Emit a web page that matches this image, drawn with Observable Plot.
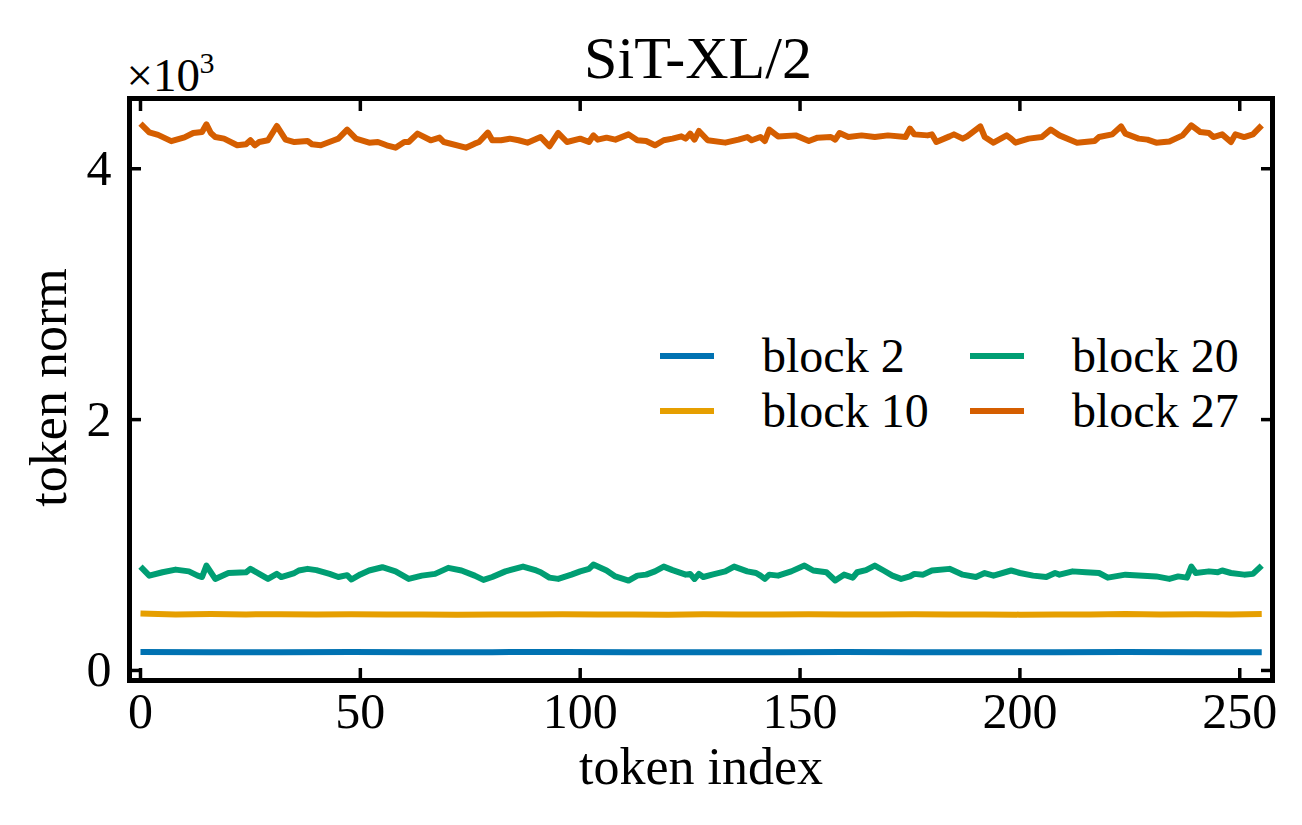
<!DOCTYPE html>
<html><head><meta charset="utf-8">
<script src="https://cdn.jsdelivr.net/npm/d3@7"></script>
<script src="https://cdn.jsdelivr.net/npm/@observablehq/plot@0.6"></script>
<style>
body{margin:0;background:#fff}
svg text{font-family:"Liberation Serif",serif}
</style>
</head><body><div id="chart"></div>
<script>
// ---- data (token norm, in units of 10^3) ----
const seriesNames = ["block 2", "block 10", "block 20", "block 27"];
const seriesColors = ["#0072b2", "#e69f00", "#009e73", "#d55e00"];
const xTicks = [0, 50, 100, 150, 200, 250];
const yTicks = [0, 2, 4];
const titleText = "SiT-XL/2";
const xLabelText = "token index";
const yLabelText = "token norm";

const block2Idx = [0,16,32,48,64,80,96,112,128,144,160,176,192,208,224,240,255];
const block2Val = [0.148,0.146,0.145,0.147,0.145,0.146,0.147,0.145,0.146,0.145,0.147,0.146,0.145,0.146,0.147,0.145,0.146];

const block10Idx = [0,8,16,24,32,40,48,56,64,72,80,88,96,104,112,120,128,136,144,152,160,168,176,184,192,200,208,216,224,232,240,248,255];
const block10Val = [0.455,0.447,0.450,0.447,0.449,0.446,0.448,0.446,0.447,0.445,0.447,0.446,0.448,0.446,0.447,0.445,0.448,0.446,0.447,0.449,0.446,0.447,0.448,0.446,0.447,0.445,0.447,0.446,0.450,0.446,0.449,0.447,0.450];

const block20Idx = [0,2,5,8,11,13,14,15,17,20,24,25,27,29,31,32,35,36,38,40,43,45,47,48,50,52,55,58,61,64,67,70,73,76,78,80,83,87,90,91,93,95,98,100,102,103,106,108,111,113,115,117,119,121,124,125,126,127,128,130,133,135,138,140,141,142,143,145,148,151,153,156,158,160,162,163,165,167,169,171,173,175,176,178,180,184,187,190,192,194,198,200,203,206,208,209,212,215,218,220,224,228,231,234,236,238,239,240,243,245,246,248,251,253,255];
const block20Val = [0.828,0.756,0.783,0.804,0.79,0.756,0.745,0.836,0.73,0.777,0.783,0.81,0.77,0.73,0.77,0.745,0.777,0.797,0.81,0.80,0.77,0.745,0.76,0.725,0.766,0.797,0.823,0.79,0.73,0.756,0.77,0.818,0.797,0.756,0.722,0.745,0.79,0.828,0.797,0.783,0.74,0.73,0.764,0.79,0.81,0.844,0.797,0.75,0.717,0.756,0.764,0.79,0.828,0.80,0.764,0.77,0.73,0.77,0.745,0.764,0.79,0.828,0.79,0.777,0.756,0.73,0.764,0.756,0.79,0.836,0.797,0.783,0.717,0.764,0.74,0.783,0.80,0.836,0.797,0.756,0.73,0.75,0.77,0.764,0.797,0.81,0.764,0.745,0.777,0.756,0.797,0.777,0.756,0.745,0.777,0.764,0.79,0.783,0.777,0.74,0.764,0.756,0.75,0.73,0.75,0.74,0.828,0.777,0.79,0.783,0.797,0.777,0.764,0.77,0.836];

const block27Idx = [0,2,4,7,10,12,14,15,16,17,19,22,24,25,26,27,29,31,33,35,38,39,41,44,45,47,49,52,54,56,58,60,61,63,66,68,69,74,76,77,79,80,82,84,86,88,91,93,95,97,100,102,103,104,106,108,111,113,115,117,119,121,123,124,125,126,127,129,133,136,138,139,141,142,143,145,149,152,154,157,158,159,161,164,167,170,174,175,176,179,180,181,184,185,187,188,191,192,194,197,198,199,202,205,207,209,213,217,218,221,223,224,227,229,231,234,237,239,241,243,244,246,248,249,251,253,255];
const block27Val = [4.36,4.29,4.27,4.22,4.25,4.285,4.293,4.354,4.285,4.253,4.24,4.187,4.195,4.227,4.187,4.213,4.227,4.341,4.232,4.213,4.221,4.195,4.187,4.227,4.24,4.312,4.24,4.208,4.213,4.187,4.168,4.213,4.213,4.28,4.227,4.248,4.213,4.168,4.20,4.213,4.288,4.227,4.227,4.24,4.227,4.208,4.253,4.179,4.285,4.213,4.24,4.213,4.266,4.232,4.248,4.232,4.274,4.227,4.221,4.187,4.227,4.24,4.258,4.24,4.28,4.232,4.301,4.227,4.208,4.232,4.253,4.227,4.253,4.221,4.312,4.258,4.266,4.221,4.248,4.253,4.232,4.285,4.253,4.266,4.253,4.266,4.253,4.32,4.274,4.266,4.274,4.213,4.258,4.274,4.24,4.258,4.338,4.253,4.208,4.266,4.24,4.208,4.24,4.253,4.312,4.266,4.208,4.221,4.253,4.274,4.338,4.28,4.24,4.232,4.208,4.218,4.266,4.346,4.293,4.285,4.253,4.274,4.213,4.274,4.253,4.274,4.346];

// ---- build long table ----
const seriesIdx = [block2Idx, block10Idx, block20Idx, block27Idx];
const seriesVal = [block2Val, block10Val, block20Val, block27Val];
const rows = [];
seriesNames.forEach((name, k) => {
  const n = Math.min(seriesIdx[k].length, seriesVal[k].length);
  for (let j = 0; j < n; j++) rows.push({token: seriesIdx[k][j], norm: seriesVal[k][j], block: name});
});

const W = 1302, H = 825;
const FONT = "Liberation Serif";

const svg = Plot.plot({
  width: W, height: H,
  marginLeft: 129, marginRight: 30, marginTop: 98, marginBottom: 145,
  style: {fontFamily: FONT, fontSize: "49px", background: "#fff", color: "#000"},
  x: {domain: [-2.5, 257.45]},
  y: {domain: [-0.08, 4.56]},
  color: {domain: seriesNames, range: seriesColors},
  marks: [
    Plot.line(rows, {x: "token", y: "norm", z: "block", stroke: "block", strokeWidth: 6, strokeLinejoin: "round", strokeLinecap: "butt"}),
    Plot.axisX({anchor: "bottom", ticks: xTicks, tickSize: -12, tickPadding: 24, strokeWidth: 3.5, label: null, fontSize: 50, tickFormat: d => String(d)}),
    Plot.axisX({anchor: "top", ticks: xTicks, tickSize: -12, tickFormat: () => "", strokeWidth: 3.5, label: null}),
    Plot.axisY({anchor: "left", ticks: yTicks, tickSize: -12, tickPadding: 30, strokeWidth: 3.5, label: null, fontSize: 50, tickFormat: d => String(d)}),
    Plot.axisY({anchor: "right", ticks: yTicks, tickSize: -12, tickFormat: () => "", strokeWidth: 3.5, label: null}),
    Plot.frame({stroke: "#000", strokeWidth: 5}),
    Plot.text([titleText], {frameAnchor: "top", textAnchor: "middle", dx: -3, dy: -21, lineAnchor: "bottom", fontSize: 60, fill: "#000"}),
    Plot.text(["×10"], {frameAnchor: "top-left", textAnchor: "start", dx: -3, dy: -8, lineAnchor: "bottom", fontSize: 47, fill: "#000"}),
    Plot.text(["3"], {frameAnchor: "top-left", textAnchor: "start", dx: 70, dy: -26, lineAnchor: "bottom", fontSize: 30, fill: "#000"}),
    Plot.text([xLabelText], {frameAnchor: "bottom", textAnchor: "middle", dy: 103, lineAnchor: "bottom", fontSize: 52, fill: "#000"}),
    Plot.text([yLabelText], {frameAnchor: "left", textAnchor: "middle", dx: -64, dy: -2, rotate: -90, lineAnchor: "bottom", fontSize: 52, fill: "#000"})
  ]
});

// ---- legend (two columns) ----
const leg = d3.select(svg).append("g").attr("font-family", FONT).attr("font-size", 48).attr("text-anchor", "start");
const legendCols = [660, 970];
const legendRows = [356, 411];
const order = [[0, 0], [1, 0], [0, 1], [1, 1]]; // [row, col] per series (column-major, ncol=2)
seriesNames.forEach((name, k) => {
  const [r, c] = order[k];
  const x0 = legendCols[c], y0 = legendRows[r];
  leg.append("line").attr("x1", x0).attr("x2", x0 + 54).attr("y1", y0).attr("y2", y0)
    .attr("stroke", seriesColors[k]).attr("stroke-width", 6);
  leg.append("text").attr("x", x0 + 102).attr("y", y0 + 16).attr("fill", "#000")
    .attr("text-anchor", "start").text(name);
});

document.getElementById("chart").appendChild(svg);
</script>
</body></html>
